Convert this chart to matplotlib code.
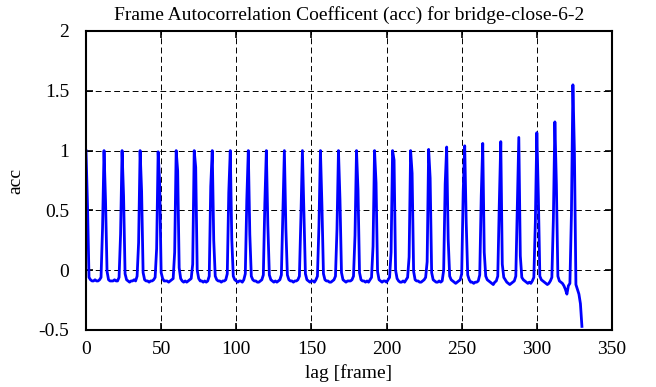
import numpy as np
import matplotlib
matplotlib.use("Agg")
import matplotlib.pyplot as plt

plt.rcParams['font.family'] = ['Liberation Serif', 'DejaVu Serif']

# acc values, one row per 12-frame period (lags 12k .. 12k+11)
acc_rows = [
    [1.00, 0.54, -0.06, -0.08, -0.09, -0.09, -0.08, -0.09, -0.09, -0.08, -0.06, 0.35],
    [1.00, 0.58, -0.01, -0.08, -0.09, -0.09, -0.09, -0.08, -0.09, -0.09, -0.06, 0.30],
    [1.00, 0.62, -0.03, -0.08, -0.09, -0.10, -0.09, -0.09, -0.08, -0.09, -0.05, 0.23],
    [1.00, 0.66, -0.02, -0.08, -0.09, -0.09, -0.10, -0.09, -0.09, -0.08, -0.06, 0.18],
    [0.99, 0.74, -0.02, -0.07, -0.09, -0.09, -0.09, -0.10, -0.09, -0.08, -0.07, 0.15],
    [1.00, 0.83, 0.02, -0.07, -0.09, -0.10, -0.09, -0.10, -0.09, -0.08, -0.07, 0.05],
    [1.00, 0.86, 0.00, -0.07, -0.09, -0.09, -0.10, -0.09, -0.10, -0.09, -0.05, 0.70],
    [1.00, 0.25, -0.05, -0.08, -0.09, -0.09, -0.10, -0.09, -0.09, -0.08, -0.03, 0.65],
    [1.00, 0.26, -0.05, -0.08, -0.09, -0.10, -0.09, -0.09, -0.10, -0.08, -0.03, 0.59],
    [1.00, 0.30, -0.05, -0.08, -0.09, -0.09, -0.10, -0.10, -0.09, -0.08, -0.04, 0.56],
    [1.00, 0.38, -0.04, -0.08, -0.09, -0.10, -0.09, -0.10, -0.09, -0.08, -0.04, 0.49],
    [1.00, 0.35, -0.04, -0.08, -0.09, -0.09, -0.10, -0.09, -0.09, -0.08, -0.05, 0.44],
    [1.00, 0.50, -0.03, -0.08, -0.09, -0.10, -0.09, -0.09, -0.10, -0.08, -0.05, 0.37],
    [1.00, 0.54, -0.03, -0.08, -0.09, -0.09, -0.10, -0.10, -0.09, -0.08, -0.05, 0.34],
    [1.00, 0.59, -0.02, -0.08, -0.09, -0.10, -0.09, -0.09, -0.09, -0.08, -0.05, 0.29],
    [1.00, 0.67, -0.02, -0.08, -0.09, -0.09, -0.10, -0.09, -0.10, -0.08, -0.06, 0.20],
    [1.00, 0.73, -0.01, -0.08, -0.09, -0.10, -0.09, -0.09, -0.10, -0.08, -0.06, 0.15],
    [1.00, 0.92, 0.00, -0.07, -0.09, -0.10, -0.10, -0.09, -0.10, -0.08, -0.06, 0.11],
    [1.00, 0.81, -0.01, -0.08, -0.09, -0.09, -0.10, -0.10, -0.09, -0.08, -0.06, 0.07],
    [1.01, 0.77, -0.02, -0.08, -0.09, -0.10, -0.10, -0.09, -0.10, -0.09, 0.00, 0.72],
    [1.03, 0.26, -0.05, -0.08, -0.09, -0.10, -0.11, -0.10, -0.09, -0.08, -0.03, 0.66],
    [1.04, 0.40, -0.04, -0.08, -0.10, -0.10, -0.11, -0.10, -0.10, -0.09, -0.04, 0.62],
    [1.06, 0.15, -0.05, -0.08, -0.09, -0.10, -0.11, -0.12, -0.10, -0.09, -0.05, 0.55],
    [1.075, 0.05, -0.06, -0.08, -0.10, -0.11, -0.12, -0.11, -0.10, -0.09, -0.05, 0.53],
    [1.11, 0.12, -0.06, -0.08, -0.09, -0.10, -0.11, -0.10, -0.11, -0.09, -0.06, 0.40],
    [1.15, 0.62, -0.05, -0.08, -0.09, -0.10, -0.11, -0.12, -0.11, -0.09, -0.06, 0.43],
    [1.24, 0.72, -0.05, -0.09, -0.10, -0.11, -0.13, -0.16, -0.20, -0.13, -0.11, 0.46],
    [1.55, 0.99, -0.12, -0.16, -0.20, -0.28, -0.47],
]

acc = np.concatenate([np.array(r) for r in acc_rows])
lag = np.arange(len(acc))

xticks = [0, 50, 100, 150, 200, 250, 300, 350]
yticks = [-0.5, 0, 0.5, 1, 1.5, 2]
ytick_labels = ['-0.5', '0', '0.5', '1', '1.5', '2']

fig = plt.figure(figsize=(6.56, 3.87), dpi=100)
ax = fig.add_axes([0.1311, 0.1473, 0.8018, 0.7726])

ax.plot(lag, acc, color=(0, 0, 1), linewidth=2.0)

ax.set_xlim(0, 350)
ax.set_ylim(-0.5, 2)
ax.set_xticks(xticks)
ax.set_yticks(yticks)
ax.set_yticklabels(ytick_labels)
ax.tick_params(direction='in', top=True, right=True, length=5, width=1.2,
               labelsize=14)
ax.tick_params(axis='x', pad=8)
ax.tick_params(axis='y', pad=12)
ax.grid(True, color='black', linestyle=(0, (6, 3.5)), linewidth=0.7)
for s in ax.spines.values():
    s.set_linewidth(1.5)

ax.set_title('Frame Autocorrelation Coefficent (acc) for bridge-close-6-2', fontsize=14, pad=8)
ax.set_xlabel('lag [frame]', fontsize=14, labelpad=4)
ax.set_ylabel('acc', fontsize=14, labelpad=10)

fig.savefig('out.png', dpi=100)
